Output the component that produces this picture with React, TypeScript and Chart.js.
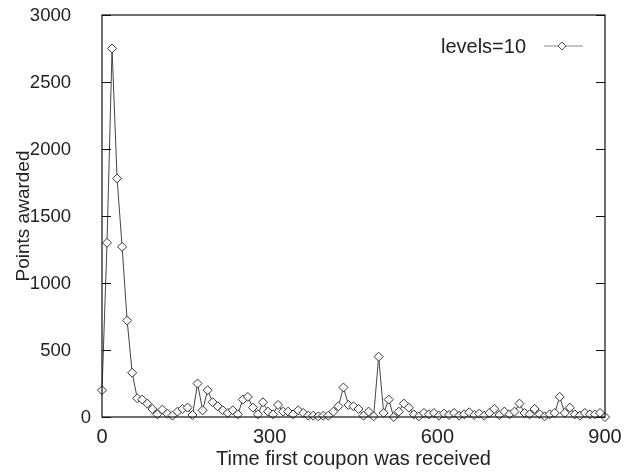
import React, { useEffect, useRef } from "react";
import { Chart, registerables } from "chart.js";

Chart.register(...registerables);

const xValues: number[] = Array.from({ length: 101 }, (_, i) => i * 9);
const pointsAwarded: number[] = [
  200, 1300, 2750, 1780, 1270, 720, 330, 140, 130, 100,
  60, 20, 55, 25, 10, 40, 60, 70, 15, 250,
  50, 200, 110, 80, 50, 30, 50, 20, 130, 150,
  70, 20, 110, 40, 20, 90, 40, 40, 20, 50,
  30, 10, 10, 5, 10, 10, 40, 80, 220, 90,
  80, 60, 10, 40, 5, 450, 30, 130, 0, 40,
  100, 70, 20, 5, 30, 20, 30, 10, 25, 15,
  30, 10, 20, 35, 15, 25, 10, 30, 60, 15,
  40, 20, 40, 100, 30, 20, 60, 20, 5, 20,
  30, 150, 30, 70, 20, 10, 30, 20, 20, 30,
  0,
];
const xTicks: number[] = [0, 300, 600, 900];
const yTicks: number[] = [0, 500, 1000, 1500, 2000, 2500, 3000];
const seriesLabel = "levels=10";
const xTitle = "Time first coupon was received";
const yTitle = "Points awarded";

const FONT = "'Liberation Sans', Arial, Helvetica, sans-serif";

const framePlugin = {
  id: "frame",
  afterDraw(chart: any) {
    const { ctx, chartArea: a, scales } = chart;
    ctx.save();
    ctx.strokeStyle = "#111";
    ctx.lineWidth = 1.2;
    ctx.strokeRect(a.left, a.top, a.right - a.left, a.bottom - a.top);
    const y = scales.y;
    ctx.beginPath();
    for (const v of yTicks) {
      const py = Math.round(y.getPixelForValue(v)) + 0.5;
      ctx.moveTo(a.left, py);
      ctx.lineTo(a.left + 9, py);
      ctx.moveTo(a.right, py);
      ctx.lineTo(a.right - 9, py);
    }
    ctx.stroke();
    // y tick labels
    ctx.font = `18.5px ${FONT}`;
    ctx.fillStyle = "#222";
    ctx.textAlign = "right";
    ctx.textBaseline = "middle";
    for (const v of yTicks) {
      const py = y.getPixelForValue(v);
      ctx.fillText(String(v), v === 0 ? a.left - 11 : a.left - 31, py + 1);
    }
    // legend
    ctx.font = `20px ${FONT}`;
    const ly = a.top + 31;
    ctx.fillText(seriesLabel, a.right - 79, ly + 1);
    ctx.strokeStyle = "#888";
    ctx.lineWidth = 1;
    ctx.beginPath();
    ctx.moveTo(a.right - 61, ly);
    ctx.lineTo(a.right - 22, ly);
    ctx.stroke();
    const cx = a.right - 43;
    ctx.beginPath();
    ctx.moveTo(cx, ly - 4);
    ctx.lineTo(cx + 4, ly);
    ctx.lineTo(cx, ly + 4);
    ctx.lineTo(cx - 4, ly);
    ctx.closePath();
    ctx.fillStyle = "#fff";
    ctx.fill();
    ctx.strokeStyle = "#555";
    ctx.stroke();
    ctx.restore();
  },
};

export default function App() {
  const ref = useRef<HTMLCanvasElement>(null);
  useEffect(() => {
    const chart = new Chart(ref.current!, {
      type: "line",
      data: {
        datasets: [
          {
            label: seriesLabel,
            data: xValues.map((x, i) => ({ x, y: pointsAwarded[i] })),
            borderColor: "#444",
            borderWidth: 1,
            pointStyle: "rectRot",
            pointRadius: 4.5,
            pointBorderWidth: 1,
            pointBorderColor: "#333",
            pointBackgroundColor: "rgba(255,255,255,0.9)",
            clip: false as any,
            tension: 0,
          },
        ],
      },
      plugins: [framePlugin],
      options: {
        animation: false,
        responsive: false,
        maintainAspectRatio: false,
        layout: { padding: { top: 15, right: 36, left: 0, bottom: 0 } },
        plugins: { legend: { display: false }, tooltip: { enabled: false } },
        scales: {
          x: {
            type: "linear",
            min: 0,
            max: 900,
            afterBuildTicks: (s: any) => {
              s.ticks = xTicks.map((v) => ({ value: v }));
            },
            afterFit: (s: any) => {
              s.height = 59;
            },
            grid: { display: false, drawTicks: false },
            border: { display: false },
            ticks: {
              padding: 8,
              color: "#222",
              font: { family: FONT, size: 20 },
              maxRotation: 0,
              callback: (v: any) => String(v),
            },
            title: {
              display: true,
              text: xTitle,
              color: "#222",
              font: { family: FONT, size: 20 },
              padding: { top: 0, bottom: 5 },
            },
          },
          y: {
            type: "linear",
            min: 0,
            max: 3000,
            afterBuildTicks: (s: any) => {
              s.ticks = yTicks.map((v) => ({ value: v }));
            },
            afterFit: (s: any) => {
              s.width = 102;
            },
            grid: { display: false, drawTicks: false },
            border: { display: false },
            ticks: { display: false },
            title: {
              display: true,
              text: yTitle,
              color: "#222",
              font: { family: FONT, size: 19 },
              padding: { top: 12, bottom: 0 },
            },
          },
        },
      },
    });
    return () => chart.destroy();
  }, []);
  return (
    <div style={{ position: "absolute", left: 0, top: 0, width: 641, height: 476, background: "#fff" }}>
      <canvas ref={ref} width={641} height={476} style={{ display: "block" }} />
    </div>
  );
}
